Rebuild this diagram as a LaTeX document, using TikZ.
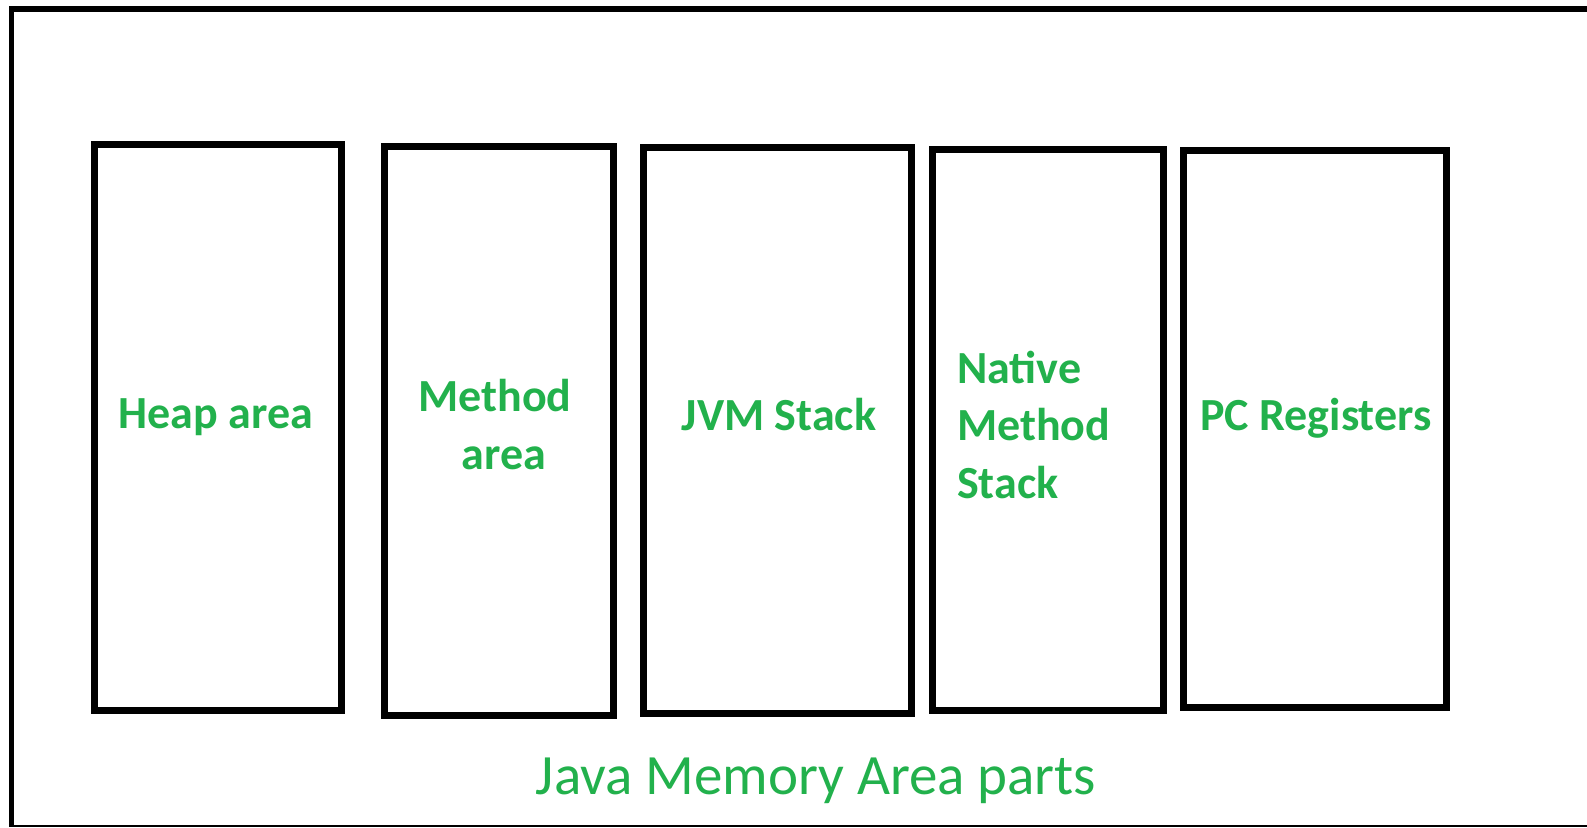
\documentclass[tikz,border=0pt]{standalone}
\usepackage{fontspec}
\setmainfont{Carlito}
\definecolor{paintgreen}{RGB}{34,177,76}
\tikzset{
  memcell/.style={draw=black, line width=7pt, inner sep=0pt, fill=white},
  celllabel/.style={text=paintgreen, inner sep=0pt, font=\fontsize{46}{56}\selectfont\bfseries},
  caption/.style={text=paintgreen, inner sep=0pt, font=\fontsize{57}{68}\selectfont}
}
\begin{document}
\begin{tikzpicture}[x=1pt, y=-1pt]
  % canvas
  \fill[white] (0,0) rectangle (1587,827);
  \useasboundingbox (0,0) rectangle (1587,827);

  % outer frame (open on the right)
  \coordinate (ftl) at (9,9);
  \coordinate (ftr) at (1587,9);
  \coordinate (fl1) at (11.5,6);
  \coordinate (fl2) at (11.5,827);
  \coordinate (fbl) at (9,826);
  \coordinate (fbr) at (1587,826);
  \draw[line width=6pt] (ftl) -- (ftr);
  \draw[line width=5pt] (fl1) -- (fl2);
  \draw[line width=2pt] (fbl) -- (fbr);

  % memory area cells
  \node[memcell, minimum width=247pt, minimum height=566pt] (heap)   at (218,427.5) {};
  \node[memcell, minimum width=229pt, minimum height=569pt] (method) at (499,431)   {};
  \node[memcell, minimum width=268pt, minimum height=566pt] (jvm)    at (777.5,430.5) {};
  \node[memcell, minimum width=231pt, minimum height=561pt] (native) at (1048,430)  {};
  \node[memcell, minimum width=263pt, minimum height=557pt] (pc)     at (1315,429)  {};

  % labels
  \node[celllabel, anchor=base] (heaplbl) at (216,428) {Heap area};
  \node[celllabel, anchor=base] (methodlbl1) at (495,411) {Method};
  \node[celllabel, anchor=base] (methodlbl2) at (504,469) {area};
  \node[celllabel, anchor=base] (jvmlbl) at (779,430) {JVM Stack};
  \node[celllabel, anchor=base west] (nativelbl1) at (957,383) {Native};
  \node[celllabel, anchor=base west] (nativelbl2) at (957,440) {Method};
  \node[celllabel, anchor=base west] (nativelbl3) at (957,498) {Stack};
  \node[celllabel, anchor=base] (pclbl) at (1316,430) {PC Registers};

  % caption
  \node[caption, anchor=base] (title) at (816,794) {Java Memory Area parts};
\end{tikzpicture}
\end{document}
